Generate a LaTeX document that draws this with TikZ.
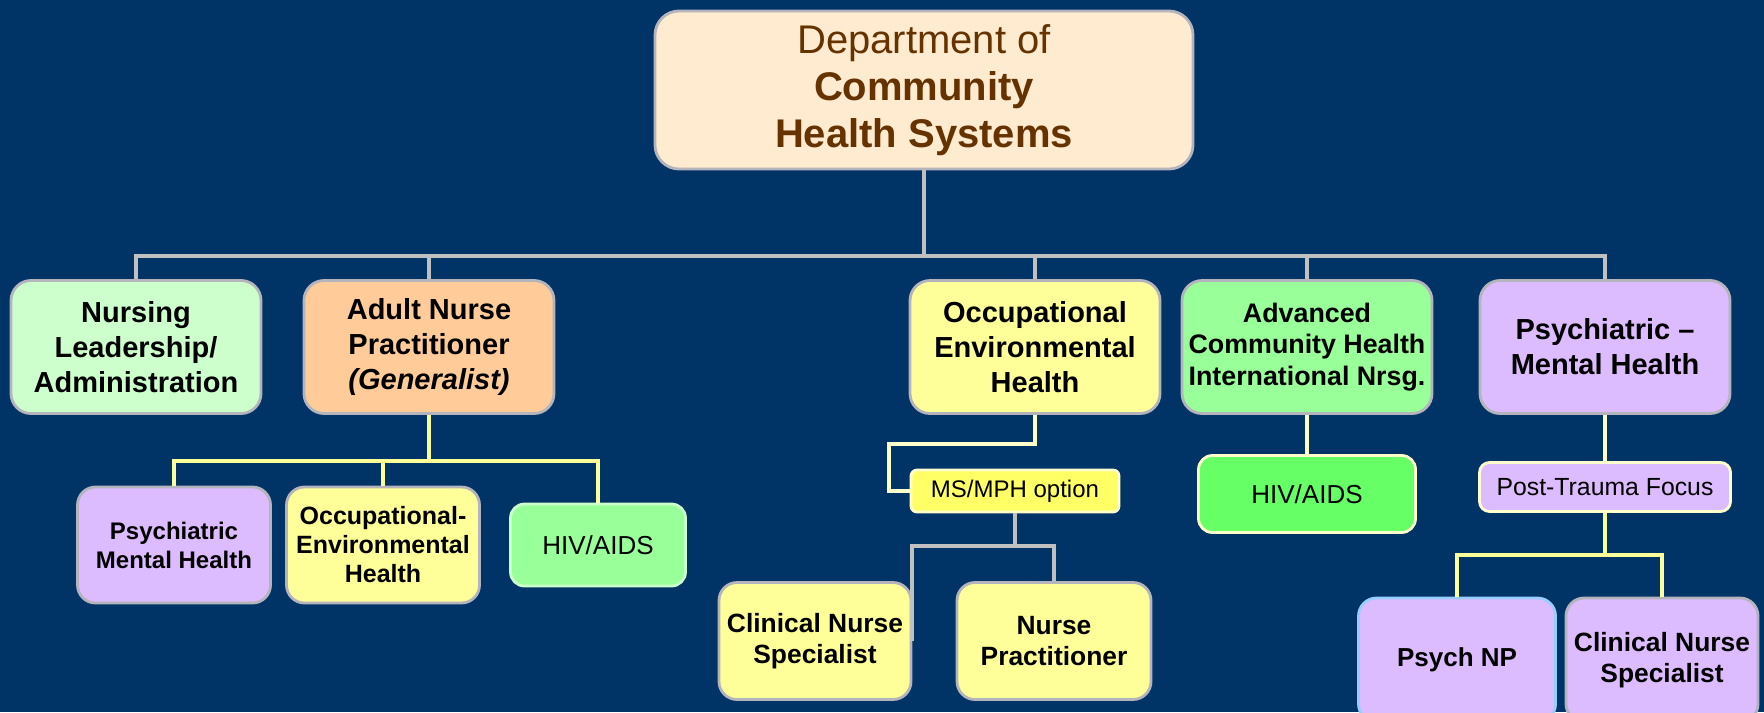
\documentclass[tikz,border=0pt]{standalone}
\usepackage{fontspec}
\setmainfont{Liberation Sans}

\definecolor{navy}{RGB}{0,51,102}
\definecolor{topfill}{RGB}{255,235,208}
\definecolor{toptext}{RGB}{102,51,0}
\definecolor{mint}{RGB}{204,255,204}
\definecolor{peach}{RGB}{255,204,153}
\definecolor{paleyellow}{RGB}{255,255,153}
\definecolor{msyellow}{RGB}{255,255,102}
\definecolor{lightgreen}{RGB}{153,255,153}
\definecolor{brightgreen}{RGB}{102,255,102}
\definecolor{lavender}{RGB}{221,187,255}
\definecolor{rimgray}{RGB}{180,180,188}
\definecolor{linkgray}{RGB}{192,192,192}
\definecolor{linkyellow}{RGB}{255,255,153}
\definecolor{cream}{RGB}{255,255,204}
\definecolor{paleblue}{RGB}{153,204,255}

\tikzset{
  unit/.style={draw=rimgray, line width=1.4pt, rounded corners=10pt, align=center,
    inner sep=0pt, text=black},
  headfont/.style={font=\fontsize{14.5}{17.5}\selectfont\bfseries},
  subfont/.style={font=\fontsize{12.5}{14.5}\selectfont\bfseries},
  lowfont/.style={font=\fontsize{13.2}{15.8}\selectfont\bfseries},
  plainfont/.style={font=\fontsize{13}{15}\selectfont},
  graylink/.style={draw=linkgray, line width=2pt},
  yellowlink/.style={draw=linkyellow, line width=2pt},
  creamlink/.style={draw=cream, line width=2pt}
}

\begin{document}
\begin{tikzpicture}[x=0.5pt,y=-0.5pt]

% Background
\fill[navy] (0,0) rectangle (1764,712);
\useasboundingbox (0,0) rectangle (1764,712);
\clip (0,0) rectangle (1764,712);

% Department box
\node[unit, fill=topfill, text=toptext, rounded corners=12pt,
  minimum width=269pt, minimum height=79pt,
  font=\fontsize{20}{23.5}\selectfont] (dept) at (924,90)
  {Department of\\ \textbf{Community}\\ \textbf{Health Systems}};

% First row of programmes
\node[unit, headfont, fill=mint, minimum width=125pt, minimum height=66.5pt]
  (leader) at (136,347) {Nursing\\ Leadership/\\ Administration};
\node[unit, headfont, fill=peach, minimum width=125pt, minimum height=66.5pt]
  (adult) at (429,347) {Adult Nurse\\ Practitioner\\ \textit{(Generalist)}};
\node[unit, headfont, fill=paleyellow, minimum width=125pt, minimum height=66.5pt]
  (occenv) at (1035,347) {Occupational\\ Environmental\\ Health};
\node[unit, fill=lightgreen, minimum width=125pt, minimum height=66.5pt,
  font=\fontsize{13.4}{15.8}\selectfont\bfseries]
  (advcom) at (1307,347) {Advanced\\ Community Health\\ International Nrsg.};
\node[unit, headfont, fill=lavender, minimum width=125pt, minimum height=66.5pt]
  (psych) at (1605,347) {Psychiatric --\\ Mental Health};

% Tracks under the adult programme
\node[unit, fill=lavender, rounded corners=9pt, minimum width=96.5pt, minimum height=58pt,
  font=\fontsize{12}{14.5}\selectfont\bfseries]
  (pmh) at (174,545) {Psychiatric\\ Mental Health};
\node[unit, subfont, fill=paleyellow, rounded corners=9pt, minimum width=96.5pt, minimum height=58pt]
  (oeh) at (383,545) {Occupational-\\ Environmental\\ Health};
\node[unit, plainfont, fill=lightgreen, draw=mint, rounded corners=7pt,
  minimum width=87.5pt, minimum height=41pt] (hivone) at (598,545) {HIV/AIDS};

% Occupational options
\node[unit, fill=msyellow, draw=cream, rounded corners=3pt, minimum width=104pt,
  minimum height=21pt, font=\fontsize{12}{14}\selectfont] (msmph) at (1015,491) {MS/MPH option};
\node[unit, lowfont, fill=paleyellow, rounded corners=9pt, minimum width=96pt, minimum height=58.5pt]
  (cnsocc) at (815,641) {Clinical Nurse\\ Specialist};
\node[unit, lowfont, fill=paleyellow, rounded corners=9pt, minimum width=97pt, minimum height=58.5pt]
  (npocc) at (1054,641) {Nurse\\ Practitioner};

% Community health track
\node[unit, plainfont, fill=brightgreen, draw=cream, rounded corners=7pt,
  minimum width=108.5pt, minimum height=38.5pt] (hivtwo) at (1307,494) {HIV/AIDS};

% Psychiatric tracks
\node[unit, fill=lavender, draw=cream, rounded corners=5pt, minimum width=125.5pt,
  minimum height=24.5pt, font=\fontsize{12.4}{14}\selectfont] (trauma) at (1605,487) {Post-Trauma Focus};
\node[unit, fill=lavender, draw=paleblue, rounded corners=9pt, minimum width=98.5pt,
  minimum height=62pt, font=\fontsize{13}{15.8}\selectfont\bfseries] (psychnp) at (1457,660) {Psych NP};
\node[unit, lowfont, fill=lavender, rounded corners=9pt, minimum width=96pt, minimum height=62pt]
  (cnspsy) at (1662,660) {Clinical Nurse\\ Specialist};

% Bus points
\coordinate (topbus) at (924,256);
\coordinate (adultbus) at (429,461);
\coordinate (occbend) at (889,444);
\coordinate (msbus) at (1015,546);
\coordinate (psybus) at (1605,555);

% Department to programmes
\draw[graylink] (dept.south) -- (topbus);
\draw[graylink] (leader.north) |- (topbus) -| (psych.north);
\draw[graylink] (adult.north) -- (adult.north |- topbus);
\draw[graylink] (occenv.north) -- (occenv.north |- topbus);
\draw[graylink] (advcom.north) -- (advcom.north |- topbus);

% Adult programme to its tracks
\draw[yellowlink] (adult.south) -- (adultbus);
\draw[yellowlink] (pmh.north) |- (adultbus) -| (hivone.north);
\draw[yellowlink] (oeh.north) -- (oeh.north |- adultbus);

% Occupational programme to its options
\draw[creamlink] (occenv.south) |- (occbend) |- (msmph.west);
\draw[graylink] (msmph.south) -- (msbus);
\draw[graylink] (msbus) -| (cnsocc.east);
\draw[graylink] (msbus) -| (npocc.north);

% Community health to HIV/AIDS
\draw[creamlink] (advcom.south) -- (hivtwo.north);

% Psychiatric programme to its tracks
\draw[creamlink] (psych.south) -- (trauma.north);
\draw[yellowlink] (trauma.south) -- (psybus);
\draw[yellowlink] (psychnp.north) |- (psybus) -| (cnspsy.north);

\end{tikzpicture}
\end{document}
